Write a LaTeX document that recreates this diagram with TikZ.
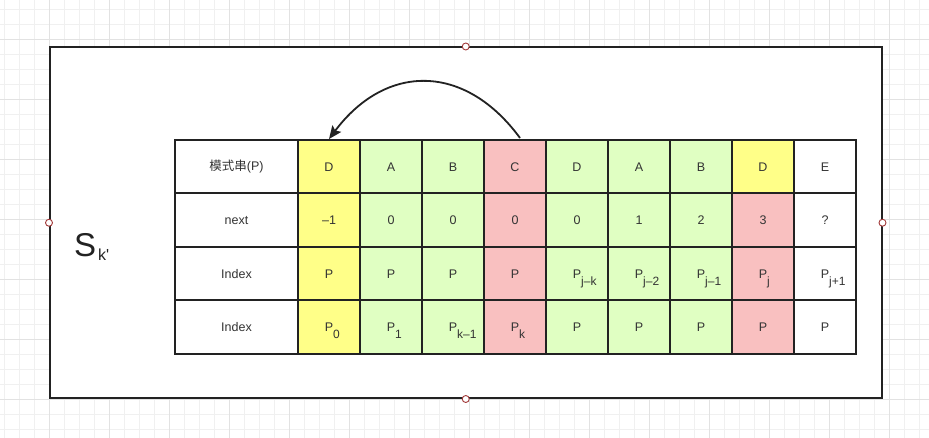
\documentclass[tikz,border=0pt]{standalone}
\usepackage{fontspec}
\setmainfont{Liberation Sans}
\newfontfamily\cjk{Noto Sans CJK SC}
\newfontfamily\plainfont[Ligatures=TeXOff]{Liberation Sans}
\usetikzlibrary{arrows.meta}
\definecolor{cyel}{HTML}{FFFF88}
\definecolor{cgrn}{HTML}{E0FFC2}
\definecolor{cpnk}{HTML}{F9C0C0}
\definecolor{cwht}{HTML}{FFFFFF}
\definecolor{linec}{HTML}{222222}
\definecolor{txtc}{HTML}{333333}
\definecolor{gridmin}{HTML}{F0F0F0}
\definecolor{gridmaj}{HTML}{E2E2E2}
\definecolor{handc}{HTML}{A33A3A}
\newcommand\psub[1]{P\rlap{\raisebox{-7pt}[0pt][0pt]{\fontsize{12}{14}\selectfont #1}}}
\begin{document}
\begin{tikzpicture}[x=1pt,y=-1pt,
  cell/.style={draw=linec, line width=2pt, minimum width=62pt, minimum height=53.5pt,
    inner sep=0pt, text=txtc, font=\fontsize{12.5}{15}\selectfont},
  labcell/.style={cell, fill=white, minimum width=123pt},
  handle/.style={circle, draw=handc, fill=white, line width=0.9pt, minimum size=7pt, inner sep=0pt},
  arr/.style={draw=linec, line width=1.8pt, -{Stealth[length=13pt,width=11pt,inset=2.5pt]}}]
\useasboundingbox (0,0) rectangle (929,438);
% grid
\begin{scope}[line width=1pt]
\foreach \x in {4.3,19.3,...,929} \draw[gridmin] (\x,0) -- (\x,438);
\foreach \y in {9.3,24.3,...,438} \draw[gridmin] (0,\y) -- (929,\y);
\foreach \x in {49.3,109.3,...,929} \draw[gridmaj] (\x,0) -- (\x,438);
\foreach \y in {39.3,99.3,...,438} \draw[gridmaj] (0,\y) -- (929,\y);
\end{scope}
% frame
\node[draw=linec, fill=white, line width=2pt, minimum width=831.5pt, minimum height=350.5pt, inner sep=0pt] (frame) at (465.75,222.75) {};
\node[handle] (hn) at (frame.north) {};
\node[handle] (hs) at (frame.south) {};
\node[handle] (hw) at (frame.west) {};
\node[handle] (he) at (frame.east) {};
% label
\node[anchor=base west, inner sep=0pt, text=linec] (sk) at (74,256.7)
  {\plainfont\fontsize{33}{36}\selectfont S\hspace{2pt}\raisebox{-4.3pt}{\fontsize{16}{18}\selectfont k'}};
% row labels
\node[labcell] (r1c0) at (236.5,166.75) {\cjk 模式串\plainfont(P)};
\node[labcell] (r2c0) at (236.5,220.25) {next};
\node[labcell] (r3c0) at (236.5,273.75) {Index};
\node[labcell] (r4c0) at (236.5,327.25) {Index};
% row 1
\foreach \t/\c [count=\i] in {D/cyel,A/cgrn,B/cgrn,C/cpnk,D/cgrn,A/cgrn,B/cgrn,D/cyel,E/cwht}
  \node[cell, fill=\c] (r1c\i) at ({329+62*(\i-1)},166.75) {\t};
% row 2
\foreach \t/\c [count=\i] in {–1/cyel,0/cgrn,0/cgrn,0/cpnk,0/cgrn,1/cgrn,2/cgrn,3/cpnk,?/cwht}
  \node[cell, fill=\c] (r2c\i) at ({329+62*(\i-1)},220.25) {\t};
% row 3
\foreach \t/\c [count=\i] in {P/cyel,P/cgrn,P/cgrn,P/cpnk,{\psub{j–k}}/cgrn,{\psub{j–2}}/cgrn,{\psub{j–1}}/cgrn,{\psub{j}}/cpnk,{\psub{j+1}}/cwht}
  \node[cell, fill=\c] (r3c\i) at ({329+62*(\i-1)},273.75) {\t};
% row 4
\foreach \t/\c [count=\i] in {{\psub{0}}/cyel,{\psub{1}}/cgrn,{\psub{k–1}}/cgrn,{\psub{k}}/cpnk,P/cgrn,P/cgrn,P/cgrn,P/cpnk,P/cwht}
  \node[cell, fill=\c] (r4c\i) at ({329+62*(\i-1)},327.25) {\t};
% arrow
\draw[arr] ([xshift=5pt,yshift=1pt]r1c4.north) .. controls (465,63) and (386,63) .. (r1c1.north);
\end{tikzpicture}
\end{document}
